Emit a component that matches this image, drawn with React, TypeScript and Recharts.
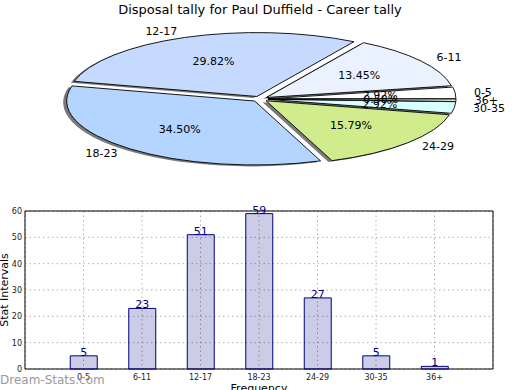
import React from 'react';
import { PieChart, Pie, Cell, BarChart, Bar, XAxis, YAxis, CartesianGrid, LabelList, ReferenceArea } from 'recharts';

const categories = ['0-5', '6-11', '12-17', '18-23', '24-29', '30-35', '36+'];
const counts = [5, 23, 51, 59, 27, 5, 1];
const pieColors = ['#ffffff', '#eaf2ff', '#c6d9ff', '#b3d5ff', '#d0ec8c', '#d8ffff', '#ffffff'];
const yTicks = [0, 10, 20, 30, 40, 50, 60];

const FONT = '"DejaVu Sans", Verdana, sans-serif';
const RAD = Math.PI / 180;
const K = 0.34; // vertical squash of the pie
const EXPLODE = 8;

const pieRows = categories.map((name, i) => ({ name, value: counts[i] }));
const barRows = categories.map((name, i) => ({ x: i, name, value: counts[i] }));
const xTicks = categories.map((_, i) => i);

function ellipsePath(cx: number, cy: number, r: number, a1: number, a2: number, dx: number, dy: number) {
  const ox = cx + dx;
  const oy = cy + dy;
  const sx = ox + r * Math.cos(a1 * RAD);
  const sy = oy - r * K * Math.sin(a1 * RAD);
  const ex = ox + r * Math.cos(a2 * RAD);
  const ey = oy - r * K * Math.sin(a2 * RAD);
  const large = Math.abs(a2 - a1) > 180 ? 1 : 0;
  return `M${ox},${oy} L${sx},${sy} A${r},${r * K} 0 ${large} 0 ${ex},${ey} Z`;
}

function MainSector(props: any) {
  const { cx, cy, outerRadius, startAngle, endAngle, midAngle, fill } = props;
  const m = midAngle * RAD;
  const dx = EXPLODE * Math.cos(m);
  const dy = -EXPLODE * K * Math.sin(m);
  return <path d={ellipsePath(cx, cy, outerRadius, startAngle, endAngle, dx, dy)} fill={fill} stroke="#000" strokeWidth={0.9} strokeLinejoin="round" />;
}

function ShadowSector(props: any) {
  const { cx, cy, outerRadius, startAngle, endAngle, midAngle } = props;
  const m = midAngle * RAD;
  const dx = EXPLODE * Math.cos(m) - 3.5;
  const dy = -EXPLODE * K * Math.sin(m) + 1.4;
  return <path d={ellipsePath(cx, cy, outerRadius, startAngle, endAngle, dx, dy)} fill="#7a7a7a" stroke="none" />;
}

function renderPieLabel(props: any) {
  const { cx, cy, midAngle, outerRadius, percent, name } = props;
  const m = midAngle * RAD;
  const c = Math.cos(m);
  const s = Math.sin(m);
  const ox = cx + EXPLODE * c;
  const oy = cy - EXPLODE * K * s;
  const px = ox + 0.6 * outerRadius * c;
  const py = oy - 0.6 * outerRadius * K * s;
  const lx = ox + 1.1 * outerRadius * c;
  const ly = oy - 1.1 * outerRadius * K * s;
  return (
    <g>
      <text x={px} y={py} textAnchor="middle" dominantBaseline="central" fontSize={11} fontFamily={FONT} fill="#000">
        {(percent * 100).toFixed(2) + '%'}
      </text>
      <text x={lx} y={ly} textAnchor={c >= 0 ? 'start' : 'end'} dominantBaseline="central" fontSize={11} fontFamily={FONT} fill="#000">
        {name}
      </text>
    </g>
  );
}

export default function App() {
  return (
    <div style={{ position: 'absolute', left: 0, top: 0, width: 520, height: 390, background: '#fff', overflow: 'hidden', fontFamily: FONT }}>
      <div style={{ position: 'absolute', left: 0, top: 2, width: 520, textAlign: 'center', fontSize: 13, lineHeight: '16px', color: '#000' }}>
        Disposal tally for Paul Duffield - Career tally
      </div>
      <div style={{ position: 'absolute', left: 0, top: 0 }}>
        <PieChart width={520} height={200} margin={{ top: 0, right: 0, bottom: 0, left: 0 }}>
          <Pie
            data={pieRows}
            dataKey="value"
            nameKey="name"
            cx={260}
            cy={99}
            outerRadius={188}
            startAngle={0}
            endAngle={360}
            stroke="none"
            shape={ShadowSector}
            isAnimationActive={false}
          >
            {pieRows.map((r, i) => (
              <Cell key={r.name} fill="#7a7a7a" />
            ))}
          </Pie>
          <Pie
            data={pieRows}
            dataKey="value"
            nameKey="name"
            cx={260}
            cy={99}
            outerRadius={188}
            startAngle={0}
            endAngle={360}
            shape={MainSector}
            label={renderPieLabel}
            labelLine={false}
            isAnimationActive={false}
          >
            {pieRows.map((r, i) => (
              <Cell key={r.name} fill={pieColors[i]} />
            ))}
          </Pie>
        </PieChart>
      </div>
      <div style={{ position: 'absolute', left: 0, top: 200 }}>
        <BarChart width={520} height={190} data={barRows} margin={{ top: 11, right: 27, bottom: 0, left: 0 }}>
          <CartesianGrid stroke="#b0b0b0" strokeDasharray="1.5 3" />
          <XAxis
            type="number"
            dataKey="x"
            domain={[-1, 7]}
            ticks={xTicks}
            interval={0}
            tickFormatter={(v: number) => categories[v] ?? ''}
            height={21}
            tickSize={0}
            tickMargin={5}
            axisLine={false}
            tick={{ fontSize: 8, fill: '#222', fontFamily: FONT }}
          />
          <YAxis
            type="number"
            domain={[0, 60]}
            ticks={yTicks}
            interval={0}
            width={25}
            tickSize={0}
            tickMargin={3}
            axisLine={false}
            tick={{ fontSize: 8, fill: '#222', fontFamily: FONT }}
          />
          <Bar dataKey="value" barSize={27} fill="rgba(0,0,128,0.2)" stroke="#000080" strokeWidth={1} isAnimationActive={false}>
            <LabelList dataKey="value" position="top" offset={0} fill="#000080" fontSize={11} fontFamily={FONT} />
          </Bar>
          <ReferenceArea x1={-1} x2={7} y1={0} y2={60} fill="none" stroke="#000" strokeWidth={1} ifOverflow="visible" />
        </BarChart>
      </div>
      <div style={{ position: 'absolute', left: 209, width: 100, top: 383, textAlign: 'center', fontSize: 11, lineHeight: '12px', color: '#000' }}>
        Frequency
      </div>
      <div style={{ position: 'absolute', left: 5, top: 290, fontSize: 11, lineHeight: '12px', color: '#000', whiteSpace: 'nowrap', transform: 'translate(-50%, -50%) rotate(-90deg)' }}>
        Stat Intervals
      </div>
      <div style={{ position: 'absolute', left: 0, top: 373, fontSize: 12, lineHeight: '14px', color: '#9a9a9a' }}>
        Dream-Stats.com
      </div>
    </div>
  );
}
